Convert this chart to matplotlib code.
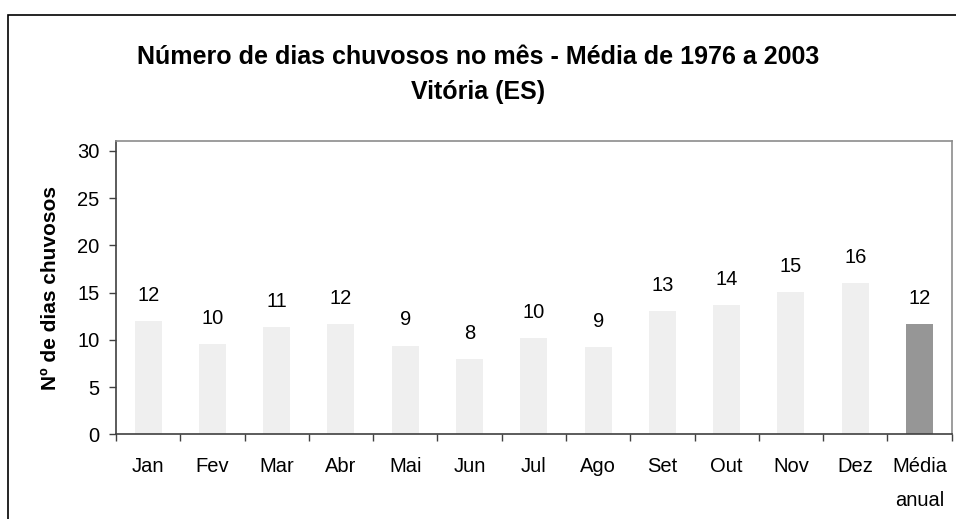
import numpy as np
import matplotlib
matplotlib.use("Agg")
import matplotlib.pyplot as plt
from matplotlib.patches import Rectangle

plt.rcParams['font.family'] = ['Liberation Sans', 'DejaVu Sans']

# Rainy days per month, 1976-2003 average, plus the annual mean
months = ["Jan", "Fev", "Mar", "Abr", "Mai", "Jun", "Jul", "Ago",
          "Set", "Out", "Nov", "Dez", "Média\nanual"]
rain_days = [12.0, 9.55, 11.37, 11.68, 9.4, 7.98, 10.2, 9.25,
             13.06, 13.7, 15.07, 16.03, 11.68]
bar_colors = ["#efefef"] * 12 + ["#969696"]

W, H = 956, 519
fig = plt.figure(figsize=(W / 100, H / 100), dpi=100)

# chart-area frame (runs off the right and bottom edges)
fig.patches.append(Rectangle((8 / W, -0.1), 1.2, (1 - 15 / H) + 0.1,
                             transform=fig.transFigure, fill=False,
                             edgecolor="black", linewidth=1.2, clip_on=False))

ax = fig.add_axes([116 / W, 1 - 434.3 / H, (951.7 - 116) / W, (434.3 - 140.7) / H])

x = np.arange(len(months))
ax.bar(x, rain_days, width=0.42, color=bar_colors, zorder=2)

for xi, v in zip(x, rain_days):
    ax.annotate(f"{round(v):d}", (xi, v), xytext=(0, 14.5),
                textcoords="offset points", ha="center", va="baseline",
                fontsize=14.5)

ax.set_xlim(-0.5, len(months) - 0.5)
ax.set_ylim(0, 31.09)
ax.set_yticks(range(0, 31, 5))
ax.tick_params(axis="y", labelsize=14.5, length=5, width=1, direction="out",
               pad=7, color="#404040")

# tick marks between categories, labels centred under the bars
ax.set_xticks(np.arange(-0.5, len(months), 1))
ax.set_xticklabels([])
ax.set_xticks(x, minor=True)
ax.set_xticklabels(months, minor=True, fontsize=14.5, linespacing=2.0,
                   va="top", ha="center", multialignment="center")
ax.tick_params(axis="x", which="major", length=5, width=1, color="#404040")
ax.tick_params(axis="x", which="minor", length=0, pad=16)

for side in ("left", "bottom"):
    ax.spines[side].set_color("#404040")
    ax.spines[side].set_linewidth(1.2)
for side in ("top", "right"):
    ax.spines[side].set_color("#8c8c8c")
    ax.spines[side].set_linewidth(1.2)

ax.set_ylabel("Nº de dias chuvosos", fontsize=15, fontweight="bold",
              labelpad=12)

fig.text(0.5, 1 - 64 / H, "Número de dias chuvosos no mês - Média de 1976 a 2003",
         ha="center", va="baseline", fontsize=18, fontweight="bold")
fig.text(0.5, 1 - 98.5 / H, "Vitória (ES)", ha="center", va="baseline",
         fontsize=18, fontweight="bold")

fig.savefig("out.png", dpi=100)
